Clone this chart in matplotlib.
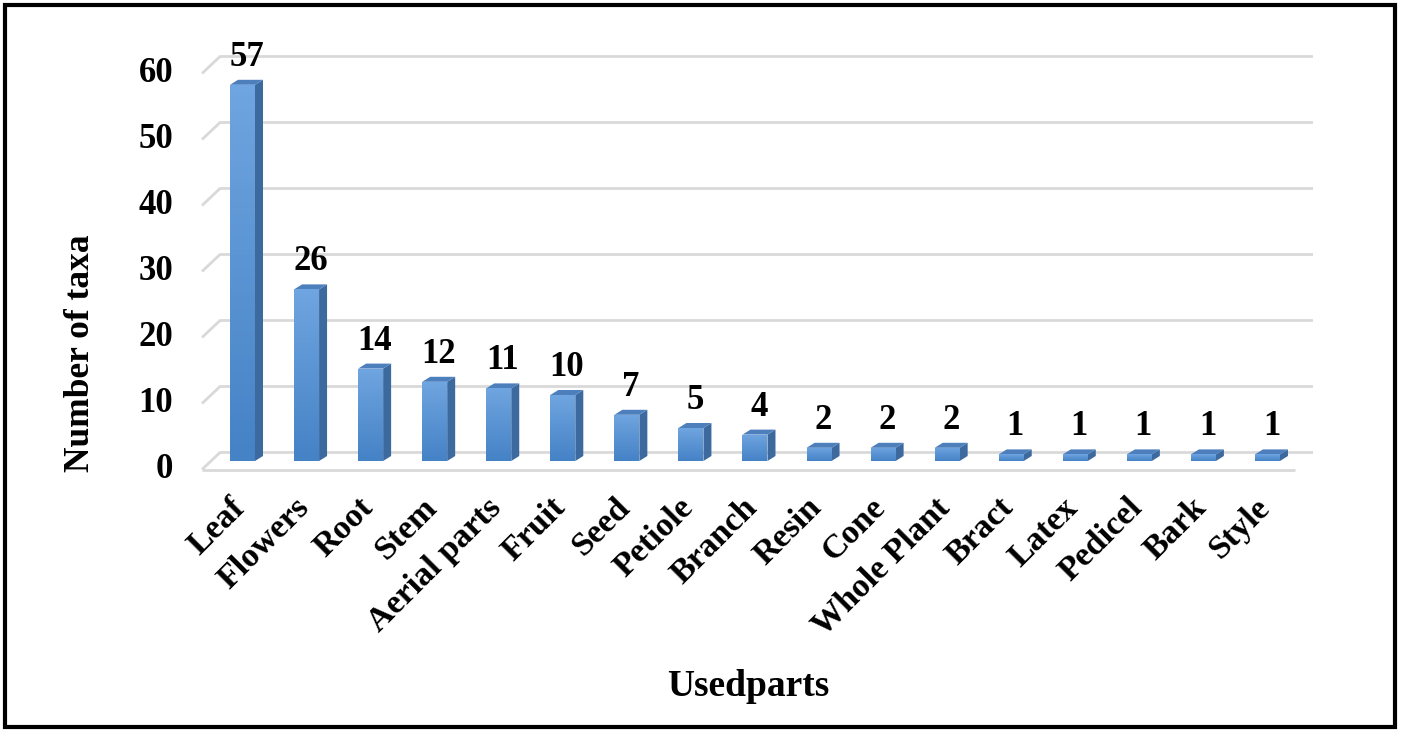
import matplotlib
matplotlib.use("Agg")
import matplotlib.pyplot as plt
import numpy as np
from matplotlib.patches import Polygon, Rectangle
from matplotlib.colors import LinearSegmentedColormap

parts = ["Leaf", "Flowers", "Root", "Stem", "Aerial parts", "Fruit", "Seed",
         "Petiole", "Branch", "Resin", "Cone", "Whole Plant", "Bract", "Latex",
         "Pedicel", "Bark", "Style"]
taxa = [57, 26, 14, 12, 11, 10, 7, 5, 4, 2, 2, 2, 1, 1, 1, 1, 1]
y_ticks = [0, 10, 20, 30, 40, 50, 60]

plt.rcParams["font.family"] = ["Liberation Serif", "DejaVu Serif"]
plt.rcParams["font.weight"] = "bold"

W, H = 1401, 732
fig = plt.figure(figsize=(W / 100, H / 100), dpi=100)
ax = fig.add_axes([0, 0, 1, 1])
ax.axis("off")

# pixel layout of the chart (mid-depth plane)
x0_px, step_px = 242.5, 64.06
y0_px, unit_px = 271.0, 6.6
ax.set_xlim(-x0_px / step_px, (W - x0_px) / step_px)
ax.set_ylim(-y0_px / unit_px, (H - y0_px) / unit_px)

def px_x(p):
    return p / step_px

def px_y(p):
    return p / unit_px

# depth of the floor / back wall
dX, dY = px_x(9), px_y(8.5)
x_left = px_x(211 - x0_px)
x_right = px_x(1304 - x0_px)

grid_kw = dict(color="#d9d9d9", lw=2.0, solid_capstyle="butt", zorder=1)
for v in y_ticks:
    ax.plot([x_left - dX, x_left + dX, x_right + dX],
            [v - dY, v + dY, v + dY], **grid_kw)
ax.plot([x_left - dX, x_right - dX], [-dY, -dY], **grid_kw)

# 3-D looking columns
w = px_x(25)
bx, by = px_x(8), px_y(5)
grad = LinearSegmentedColormap.from_list("g", ["#4582c6", "#6fa5e0"])
xs = np.arange(len(parts))
bars = ax.bar(xs, taxa, width=w, color="#5b95d6", zorder=3, lw=0)
for b, v in zip(bars, taxa):
    l, r = b.get_x(), b.get_x() + b.get_width()
    img = ax.imshow(np.linspace(0, 1, 64).reshape(-1, 1),
                    cmap=grad, aspect="auto", extent=(l, r, 0, v),
                    origin="lower", zorder=3.1)
    img.set_clip_path(b)
    ax.add_patch(Polygon([(r, 0), (r, v), (r + bx, v + by), (r + bx, by)],
                         closed=True, fc="#3d6a9e", ec="none", zorder=3))
    ax.add_patch(Polygon([(l, v), (r, v), (r + bx, v + by), (l + bx, v + by)],
                         closed=True, fc="#4d7fbd", ec="none", zorder=3))
    ax.text(b.get_x() + b.get_width() / 2 + px_x(4), v + px_y(19), str(v),
            ha="center", va="baseline", fontsize=25, fontweight="bold", zorder=4)

ax.set_xlim(-x0_px / step_px, (W - x0_px) / step_px)
ax.set_ylim(-y0_px / unit_px, (H - y0_px) / unit_px)

# y tick labels
for v in y_ticks:
    ax.text(px_x(173 - x0_px), v - dY, str(v), ha="right", va="center",
            fontsize=25, fontweight="bold")

# category labels
for i, name in enumerate(parts):
    ax.text(i - px_x(13), px_y(-31), name, rotation=45, rotation_mode="anchor",
            ha="right", va="top", fontsize=24.5, fontweight="bold")

ax.text(px_x(80 - x0_px), px_y(732 - 353 - y0_px), "Number of taxa",
        rotation=90, ha="center", va="center", fontsize=25.5, fontweight="bold")
ax.text(px_x(748 - x0_px), px_y(732 - 687 - y0_px), "Usedparts",
        ha="center", va="center", fontsize=27, fontweight="bold")

# frame around the figure
fig.patches.append(Rectangle((5, 5), W - 11, H - 10, transform=None,
                             fill=False, ec="black", lw=3.0))

fig.savefig("out.png", dpi=100)
